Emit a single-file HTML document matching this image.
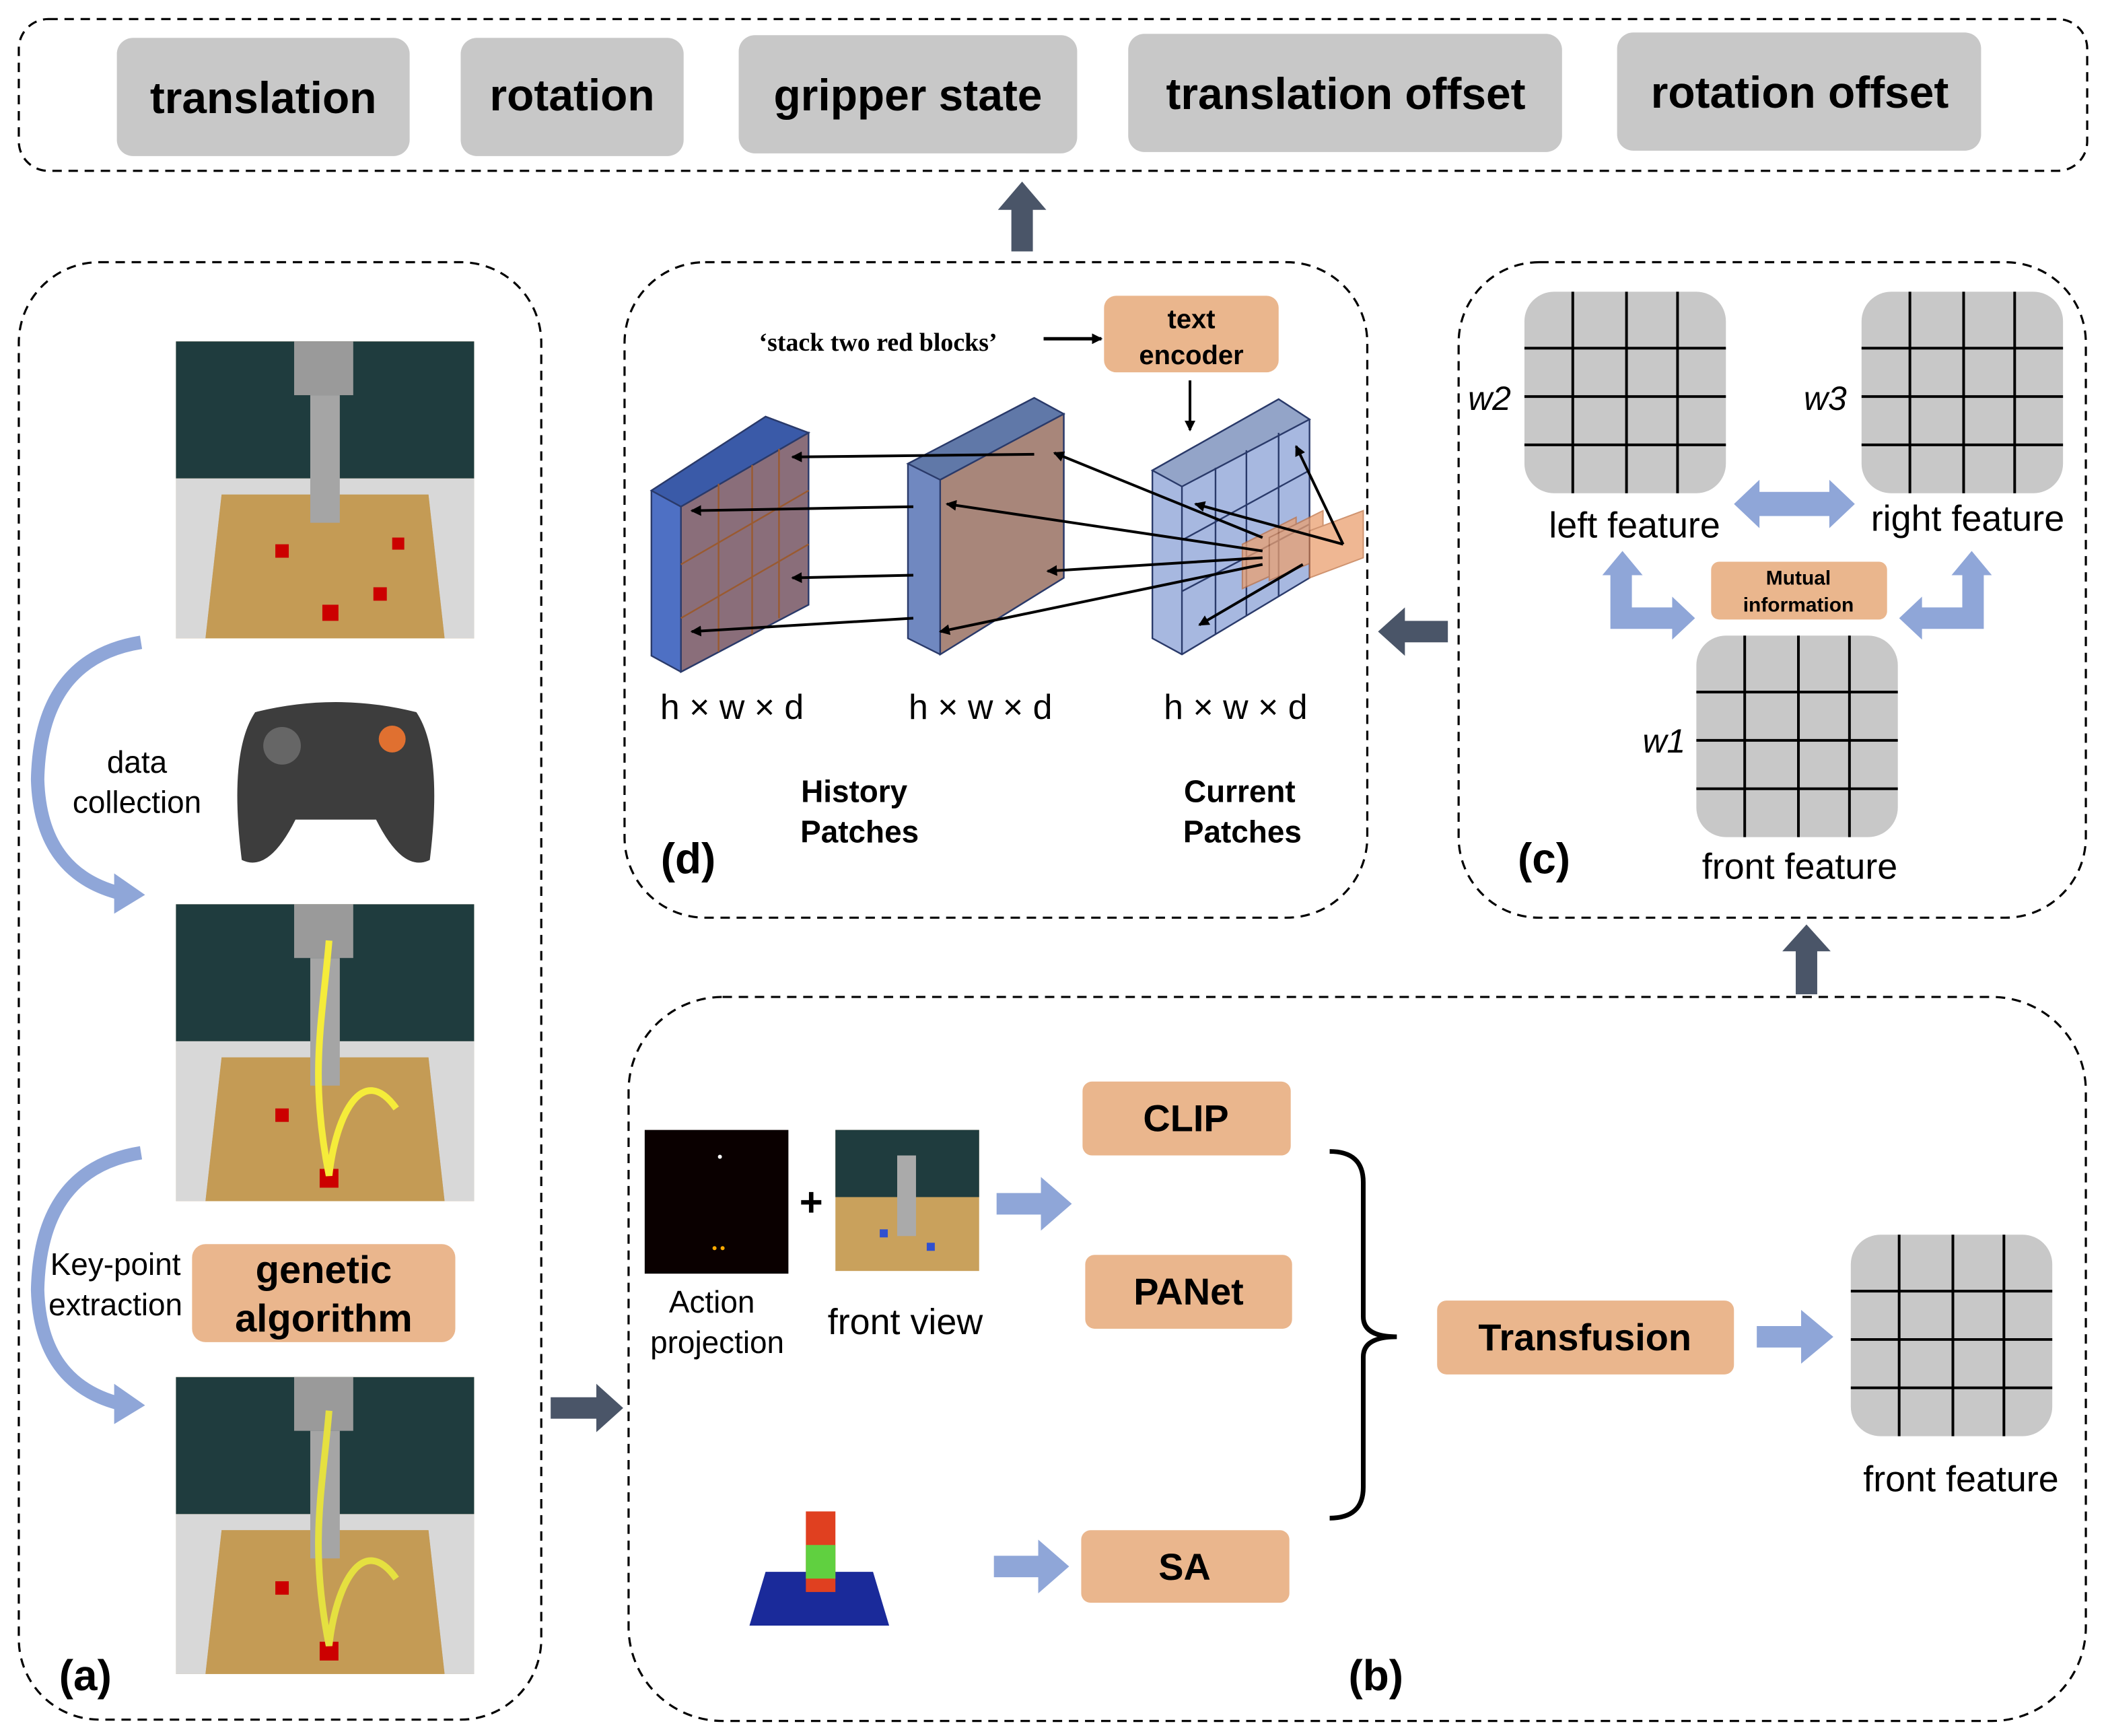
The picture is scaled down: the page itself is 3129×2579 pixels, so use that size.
<!DOCTYPE html>
<html><head><meta charset="utf-8"><style>
html,body{margin:0;padding:0;background:#fff;}
svg{display:block}
text{font-family:"Liberation Sans",sans-serif;}
</style></head><body>
<svg width="3129" height="2579" viewBox="0 0 1568 1292" xmlns="http://www.w3.org/2000/svg">
<defs>
<marker id="ah" markerWidth="8" markerHeight="8" refX="7" refY="4" orient="auto" markerUnits="userSpaceOnUse"><path d="M0,0 L8,4 L0,8 z" fill="#000"/></marker>
<g id="grid4">
<rect x="0" y="0" width="150" height="150" rx="22" fill="#c8c8c8"/>
<path d="M36,0V150M76,0V150M114,0V150M0,42H150M0,78H150M0,114H150" stroke="#000" stroke-width="2"/>
</g>
<g id="scene">
<rect width="222" height="221" fill="#c9a15c"/>
<rect width="222" height="102" fill="#1f3c3e"/>
<polygon points="0,102 222,102 222,221 200,221 188,114 34,114 22,221 0,221" fill="#d8d8d8"/>
<polygon points="34,114 188,114 200,221 22,221" fill="#c49b55"/>
<rect x="88" y="0" width="44" height="40" fill="#9a9a9a"/>
<rect x="100" y="40" width="22" height="95" fill="#a5a5a5"/>
</g>
</defs>
<g fill="none" stroke="#000" stroke-width="1.6" stroke-dasharray="7,5">
<rect x="14" y="14" width="1540" height="113" rx="22"/>
<rect x="14" y="195" width="389" height="1085" rx="60"/>
<rect x="465" y="195" width="553" height="488" rx="60"/>
<rect x="1086" y="195" width="467" height="488" rx="60"/>
<rect x="468" y="742" width="1085" height="539" rx="70"/>
</g>
<g fill="#c8c8c8">
<rect x="87" y="28" width="218" height="88" rx="12"/>
<rect x="343" y="28" width="166" height="88" rx="12"/>
<rect x="550" y="26" width="252" height="88" rx="12"/>
<rect x="840" y="25" width="323" height="88" rx="12"/>
<rect x="1204" y="24" width="271" height="88" rx="12"/>
</g>
<g font-size="33" font-weight="bold" text-anchor="middle">
<text x="196" y="84">translation</text>
<text x="426" y="82">rotation</text>
<text x="676" y="82">gripper state</text>
<text x="1002" y="81">translation offset</text>
<text x="1340" y="80">rotation offset</text>
</g>
<g fill="#4a5568">
<polygon points="761,135 779,156 769,156 769,187 753,187 753,156 743,156"/>
<polygon points="410,1040 444,1040 444,1030 464,1048 444,1066 444,1056 410,1056"/>
<polygon points="1026,470 1046,452 1046,462 1078,462 1078,478 1046,478 1046,488"/>
<polygon points="1345,688 1363,708 1353,708 1353,740 1337,740 1337,708 1327,708"/>
</g>
<!-- panel a -->
<use href="#scene" x="131" y="254"/>
<use href="#scene" x="131" y="673"/>
<use href="#scene" x="131" y="1025"/>
<g fill="#c00"><rect x="205" y="405" width="10" height="10"/><rect x="240" y="450" width="12" height="12"/><rect x="278" y="437" width="10" height="10"/><rect x="292" y="400" width="9" height="9"/><rect x="238" y="870" width="14" height="14"/><rect x="205" y="825" width="10" height="10"/><rect x="238" y="1222" width="14" height="14"/><rect x="205" y="1177" width="10" height="10"/></g>
<path d="M245,700 C240,760 230,800 245,875 C250,830 270,790 295,825" stroke="#f5ec3a" stroke-width="5" fill="none"/>
<path d="M245,1050 C240,1110 230,1150 245,1225 C250,1180 270,1140 295,1175" stroke="#e5e040" stroke-width="5" fill="none"/>
<path d="M190,530 Q250,515 310,530 Q330,560 320,640 Q300,650 280,610 L220,610 Q200,650 180,640 Q170,560 190,530z" fill="#3d3d3d"/>
<circle cx="292" cy="550" r="10" fill="#e07030"/>
<circle cx="210" cy="555" r="14" fill="#666"/>
<path d="M105,478 Q30,490 28,580 Q30,650 90,665" stroke="#8fa6d8" stroke-width="10" fill="none"/>
<polygon points="85,650 108,666 85,680" fill="#8fa6d8"/>
<path d="M105,858 Q30,870 28,960 Q30,1030 90,1045" stroke="#8fa6d8" stroke-width="10" fill="none"/>
<polygon points="85,1030 108,1046 85,1060" fill="#8fa6d8"/>
<g font-size="23" text-anchor="middle"><text x="102" y="575">data</text><text x="102" y="605">collection</text>
<text x="86" y="949">Key-point</text><text x="86" y="979">extraction</text></g>
<rect x="143" y="926" width="196" height="73" rx="10" fill="#eab68d"/>
<g font-size="29" font-weight="bold" text-anchor="middle"><text x="241" y="955">genetic</text><text x="241" y="991">algorithm</text></g>
<text x="44" y="1258" font-size="32" font-weight="bold">(a)</text>
<!-- panel d -->
<text x="565" y="261" font-size="19" font-weight="bold" style="font-family:'Liberation Serif',serif">‘stack two red blocks’</text>
<line x1="777" y1="252" x2="820" y2="252" stroke="#000" stroke-width="2.5" marker-end="url(#ah)"/>
<rect x="822" y="220" width="130" height="57" rx="9" fill="#eab68d"/>
<g font-size="20" font-weight="bold" text-anchor="middle"><text x="887" y="244">text</text><text x="887" y="271">encoder</text></g>
<line x1="886" y1="283" x2="886" y2="320" stroke="#000" stroke-width="2" marker-end="url(#ah)"/>
<g stroke="#2a3a6a" stroke-width="1.2">
<polygon points="485,365 570,310 602,322 602,450 507,500 485,488" fill="#4e70c4"/>
<polygon points="485,365 570,310 602,322 507,377" fill="#3a5aa8"/>
<polygon points="507,377 602,322 602,450 507,500" fill="#8a6e7a"/>
<path d="M535,360V485M560,346V472M580,334V460M507,420L602,365M507,460L602,405" stroke="#9a5a30" fill="none"/>
<polygon points="676,345 770,296 792,308 792,430 700,487 676,475" fill="#7088c0"/>
<polygon points="676,345 770,296 792,308 700,357" fill="#6078a8"/>
<polygon points="700,357 792,308 792,430 700,487" fill="#a8867a"/>
<polygon points="858,350 952,297 975,312 975,430 880,487 858,475" fill="#a7b8e0"/>
<polygon points="858,350 952,297 975,312 880,362" fill="#93a4c8"/>
<path d="M880,362V487M905,348V472M928,335V458M952,322V444M880,402L975,350M880,440L975,390" fill="none"/>
</g>
<g fill="#eaa070" opacity="0.75" stroke="#c07040"><polygon points="925,405 965,385 965,420 925,438"/><polygon points="945,400 985,380 985,415 945,432"/><polygon points="975,395 1015,380 1015,415 975,430"/></g>
<g stroke="#000" stroke-width="2" marker-end="url(#ah)">
<line x1="770" y1="338" x2="590" y2="340"/><line x1="680" y1="377" x2="515" y2="380"/>
<line x1="680" y1="460" x2="515" y2="470"/><line x1="680" y1="428" x2="590" y2="430"/>
<line x1="940" y1="400" x2="785" y2="337"/><line x1="940" y1="410" x2="705" y2="375"/>
<line x1="940" y1="415" x2="780" y2="425"/><line x1="940" y1="420" x2="700" y2="470"/>
<line x1="1000" y1="405" x2="890" y2="375"/><line x1="1000" y1="405" x2="965" y2="332"/><line x1="970" y1="420" x2="893" y2="465"/>
</g>
<g font-size="26" style="font-family:'DejaVu Sans',sans-serif" text-anchor="middle"><text x="545" y="535">h × w × d</text><text x="730" y="535">h × w × d</text><text x="920" y="535">h × w × d</text></g>
<g font-size="23" font-weight="bold" text-anchor="middle"><text x="636" y="597">History</text><text x="640" y="627">Patches</text><text x="923" y="597">Current</text><text x="925" y="627">Patches</text></g>
<text x="492" y="650" font-size="32" font-weight="bold">(d)</text>
<!-- panel c -->
<use href="#grid4" x="1135" y="217"/>
<use href="#grid4" x="1386" y="217"/>
<use href="#grid4" x="1263" y="473"/>
<g font-size="25" font-style="italic"><text x="1093" y="305">w2</text><text x="1343" y="305">w3</text><text x="1223" y="560">w1</text></g>
<g font-size="27" text-anchor="middle"><text x="1217" y="400">left feature</text><text x="1465" y="395">right feature</text><text x="1340" y="654">front feature</text><text x="1460" y="1110">front feature</text><text x="674" y="993">front view</text></g>
<polygon points="1291,375 1310,357 1310,366 1362,366 1362,357 1381,375 1362,393 1362,384 1310,384 1310,393" fill="#8fa6d8"/>
<polygon points="1193,428 1208,410 1223,428 1215,428 1215,452 1245,452 1245,444 1262,460 1245,476 1245,468 1199,468 1199,428" fill="#8fa6d8"/>
<polygon points="1483,428 1468,410 1453,428 1461,428 1461,452 1431,452 1431,444 1414,460 1431,476 1431,468 1477,468 1477,428" fill="#8fa6d8"/>
<rect x="1274" y="418" width="131" height="43" rx="6" fill="#eab68d"/>
<g font-size="15" font-weight="bold" text-anchor="middle"><text x="1339" y="435">Mutual</text><text x="1339" y="455">information</text></g>
<text x="1130" y="650" font-size="32" font-weight="bold">(c)</text>
<!-- panel b -->
<rect x="480" y="841" width="107" height="107" fill="#0a0000"/>
<circle cx="536" cy="861" r="1.5" fill="#fff"/><circle cx="532" cy="929" r="1.5" fill="#fa0"/><circle cx="538" cy="929" r="1.5" fill="#fa0"/>
<text x="604" y="905" font-size="30" font-weight="bold" text-anchor="middle">+</text>
<rect x="622" y="841" width="107" height="105" fill="#c9a15c"/><rect x="622" y="841" width="107" height="50" fill="#1f3c3e"/>
<rect x="668" y="860" width="14" height="60" fill="#aaa"/>
<g fill="#3050d0"><rect x="655" y="915" width="6" height="6"/><rect x="690" y="925" width="6" height="6"/></g>
<g font-size="23" text-anchor="middle"><text x="530" y="977">Action</text><text x="534" y="1007">projection</text></g>
<polygon points="558,1210 570,1170 650,1170 662,1210" fill="#1a2a9a"/>
<rect x="600" y="1125" width="22" height="60" fill="#e04020"/><rect x="600" y="1150" width="22" height="25" fill="#60d040"/>
<g fill="#eab68d"><rect x="806" y="805" width="155" height="55" rx="7"/><rect x="808" y="934" width="154" height="55" rx="7"/><rect x="805" y="1139" width="155" height="54" rx="7"/><rect x="1070" y="968" width="221" height="55" rx="7"/></g>
<g font-size="28" font-weight="bold" text-anchor="middle"><text x="883" y="842">CLIP</text><text x="885" y="971">PANet</text><text x="882" y="1176">SA</text><text x="1180" y="1005">Transfusion</text></g>
<g fill="#8fa6d8">
<polygon points="742,888 775,888 775,876 798,896 775,916 775,904 742,904"/>
<polygon points="740,1158 773,1158 773,1146 796,1166 773,1186 773,1174 740,1174"/>
<polygon points="1308,987 1341,987 1341,975 1365,995 1341,1015 1341,1003 1308,1003"/>
</g>
<path d="M990,857 Q1015,857 1015,880 L1015,980 Q1015,995 1040,995 Q1015,995 1015,1010 L1015,1107 Q1015,1130 990,1130" stroke="#000" stroke-width="3.5" fill="none"/>
<use href="#grid4" x="1378" y="919"/>
<text x="1004" y="1258" font-size="32" font-weight="bold">(b)</text>
</svg>
</body></html>
